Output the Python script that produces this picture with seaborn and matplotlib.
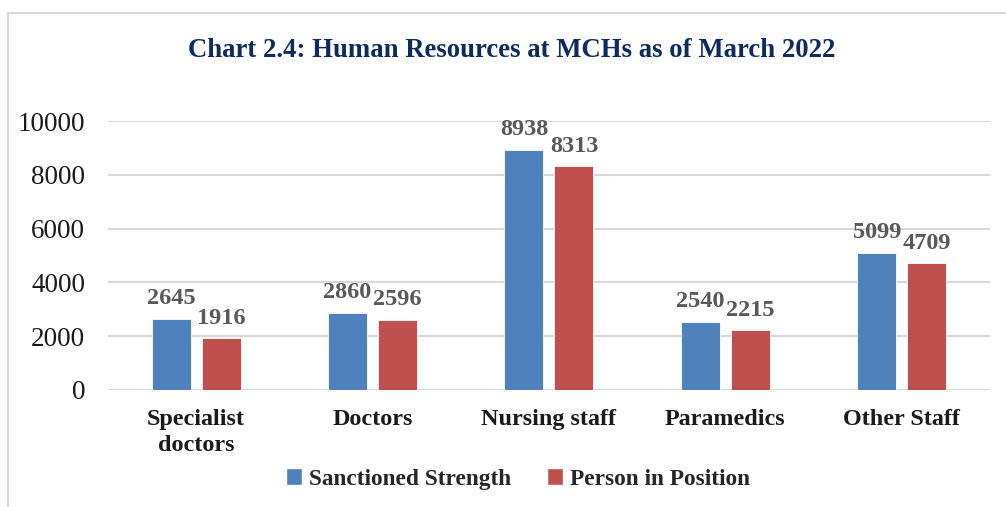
import numpy as np
import pandas as pd
import matplotlib
matplotlib.use("Agg")
import matplotlib.pyplot as plt
import seaborn as sns
from matplotlib.patches import Patch
from matplotlib.lines import Line2D

CATEGORIES = ["Specialist\ndoctors", "Doctors", "Nursing staff", "Paramedics", "Other Staff"]
SANCTIONED = [2645, 2860, 8938, 2540, 5099]
IN_POSITION = [1916, 2596, 8313, 2215, 4709]
SERIES = ["Sanctioned Strength", "Person in Position"]
Y_TICKS = [0, 2000, 4000, 6000, 8000, 10000]
TITLE = "Chart 2.4: Human Resources at MCHs as of March 2022"

BLUE = "#4F81BD"; RED = "#C0504D"; GRID = "#D9D9D9"
NAVY = "#0E2A5E"; LABEL_GREY = "#595959"; TEXT = "#1A1A1A"

df = pd.DataFrame({
    "category": CATEGORIES * 2,
    "series":   [SERIES[0]] * len(CATEGORIES) + [SERIES[1]] * len(CATEGORIES),
    "value":    SANCTIONED + IN_POSITION,
})

sns.set_style("white")
plt.rcParams["font.family"] = ["Liberation Serif", "DejaVu Serif"]

fig = plt.figure(figsize=(10.06, 5.07), dpi=100)
ax = fig.add_axes([0.1074, 0.2308, 0.8766, 0.5305])

sns.barplot(data=df, x="category", y="value", hue="series",
            palette=[BLUE, RED], saturation=1, width=0.567, gap=0.22,
            edgecolor="white", linewidth=0.6, ax=ax, legend=False, zorder=3)

for cont in ax.containers:
    ax.bar_label(cont, padding=7, fontsize=17.5, fontweight="bold", color=LABEL_GREY)

ax.set_ylim(0, 10000)
ax.set_yticks(Y_TICKS)
ax.set_yticklabels([str(t) for t in Y_TICKS], fontsize=19.5, color=TEXT)
ax.tick_params(axis="y", length=0, pad=16.5)
ax.tick_params(axis="x", length=0, pad=14)
for lbl in ax.get_xticklabels():
    lbl.set_fontsize(17.4); lbl.set_fontweight("bold"); lbl.set_color(TEXT)
    lbl.set_linespacing(1.3)
ax.set_xlabel(""); ax.set_ylabel("")
ax.grid(axis="y", color=GRID, linewidth=1.5, zorder=0)
ax.set_axisbelow(True)
for sp in ax.spines.values():
    sp.set_visible(False)

fig.text(512 / 1006, 1 - 50 / 507, TITLE, ha="center", va="center",
         fontsize=19.3, fontweight="bold", color=NAVY)

# chart frame (top and left edges visible)
fig.add_artist(Line2D([8 / 1006, 1.0], [1 - 13 / 507] * 2, color=GRID, lw=1.5,
                      transform=fig.transFigure))
fig.add_artist(Line2D([8 / 1006] * 2, [0, 1 - 13 / 507], color=GRID, lw=1.5,
                      transform=fig.transFigure))

handles = [Patch(facecolor=BLUE), Patch(facecolor=RED)]
fig.legend(handles, SERIES, loc="center", bbox_to_anchor=(518 / 1006, 1 - 479 / 507),
           ncol=2, frameon=False, handlelength=0.7, handleheight=0.7,
           handletextpad=0.3, columnspacing=1.5,
           prop={"family": "Liberation Serif", "weight": "bold", "size": 16.8})

fig.savefig("out.png", dpi=100, facecolor="white")
